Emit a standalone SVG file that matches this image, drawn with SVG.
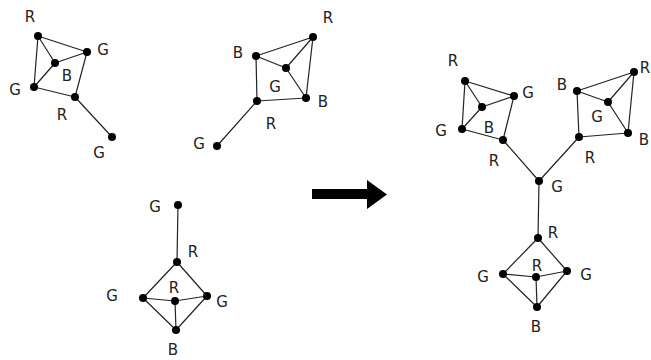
<svg xmlns="http://www.w3.org/2000/svg" width="651" height="360" viewBox="0 0 651 360">
<style>
.e{stroke:#222;stroke-width:1.2;fill:none}
.n{fill:#000}
text{font-family:"DejaVu Sans","Liberation Sans",sans-serif;font-size:15px;fill:#222;text-anchor:middle;dominant-baseline:central}
</style>
<rect width="651" height="360" fill="#fff"/>
<g id="connectors">
<path class="e" d="M38,36L87,52M38,36L55,63M38,36L34,87M55,63L87,52M55,63L34,87M34,87L75,97M87,52L75,97M75,97L112,137"/>
<path class="e" d="M256,56L313,37M256,56L286,68M313,37L286,68M313,37L306,98M286,68L306,98M256,56L257,101M257,101L306,98M257,101L217,146"/>
<path class="e" d="M178,205L177,262M177,262L143,298M177,262L207,296M143,298L175,301M175,301L207,296M143,298L176,330M175,301L176,330M207,296L176,330"/>
<path class="e" d="M465,81L514,96M465,81L482,107M465,81L462,129M482,107L514,96M482,107L462,129M462,129L503,140M514,96L503,140M503,140L539,181"/>
<path class="e" d="M577,91L634,72M577,91L608,102M634,72L608,102M634,72L628,133M608,102L628,133M577,91L579,137M579,137L628,133M579,137L539,181"/>
<path class="e" d="M539,181L538,238M538,238L503,274M538,238L567,271M503,274L536,277M536,277L567,271M503,274L537,307M536,277L537,307M567,271L537,307"/>
<path d="M312,189H367V180L387,194.5L367,209V199H312Z" fill="#000"/>
</g>
<g id="graph1">
<circle class="n" cx="38" cy="36" r="4"/><circle class="n" cx="87" cy="52" r="4"/><circle class="n" cx="55" cy="63" r="4"/><circle class="n" cx="34" cy="87" r="4"/><circle class="n" cx="75" cy="97" r="4"/><circle class="n" cx="112" cy="137" r="4"/>
<text x="30" y="17">R</text><text x="103" y="50">G</text><text x="67" y="76">B</text><text x="15" y="90">G</text><text x="62" y="115">R</text><text x="99" y="153">G</text>
</g>
<g id="graph2">
<circle class="n" cx="313" cy="37" r="4"/><circle class="n" cx="256" cy="56" r="4"/><circle class="n" cx="286" cy="68" r="4"/><circle class="n" cx="306" cy="98" r="4"/><circle class="n" cx="257" cy="101" r="4"/><circle class="n" cx="217" cy="146" r="4"/>
<text x="328" y="18">R</text><text x="238" y="53">B</text><text x="275" y="87">G</text><text x="323" y="102">B</text><text x="271" y="124">R</text><text x="199" y="144">G</text>
</g>
<g id="graph3">
<circle class="n" cx="178" cy="205" r="4"/><circle class="n" cx="177" cy="262" r="4"/><circle class="n" cx="143" cy="298" r="4"/><circle class="n" cx="175" cy="301" r="4"/><circle class="n" cx="207" cy="296" r="4"/><circle class="n" cx="176" cy="330" r="4"/>
<text x="155" y="207">G</text><text x="193" y="252">R</text><text x="112" y="296">G</text><text x="174" y="288">R</text><text x="222" y="302">G</text><text x="173" y="350">B</text>
</g>
<g id="result">
<circle class="n" cx="465" cy="81" r="4"/><circle class="n" cx="514" cy="96" r="4"/><circle class="n" cx="482" cy="107" r="4"/><circle class="n" cx="462" cy="129" r="4"/><circle class="n" cx="503" cy="140" r="4"/>
<circle class="n" cx="539" cy="181" r="4"/>
<circle class="n" cx="577" cy="91" r="4"/><circle class="n" cx="634" cy="72" r="4"/><circle class="n" cx="608" cy="102" r="4"/><circle class="n" cx="628" cy="133" r="4"/><circle class="n" cx="579" cy="137" r="4"/>
<circle class="n" cx="538" cy="238" r="4"/><circle class="n" cx="503" cy="274" r="4"/><circle class="n" cx="536" cy="277" r="4"/><circle class="n" cx="567" cy="271" r="4"/><circle class="n" cx="537" cy="307" r="4"/>
<text x="453" y="61">R</text><text x="528" y="93">G</text><text x="441" y="131">G</text><text x="489" y="128">B</text><text x="494" y="161">R</text>
<text x="557" y="187">G</text>
<text x="562" y="85">B</text><text x="645" y="68">R</text><text x="597" y="117">G</text><text x="644" y="140">B</text><text x="590" y="158">R</text>
<text x="553" y="233">R</text><text x="483" y="277">G</text><text x="537" y="266">R</text><text x="586" y="275">G</text><text x="536" y="327">B</text>
</g>
</svg>
